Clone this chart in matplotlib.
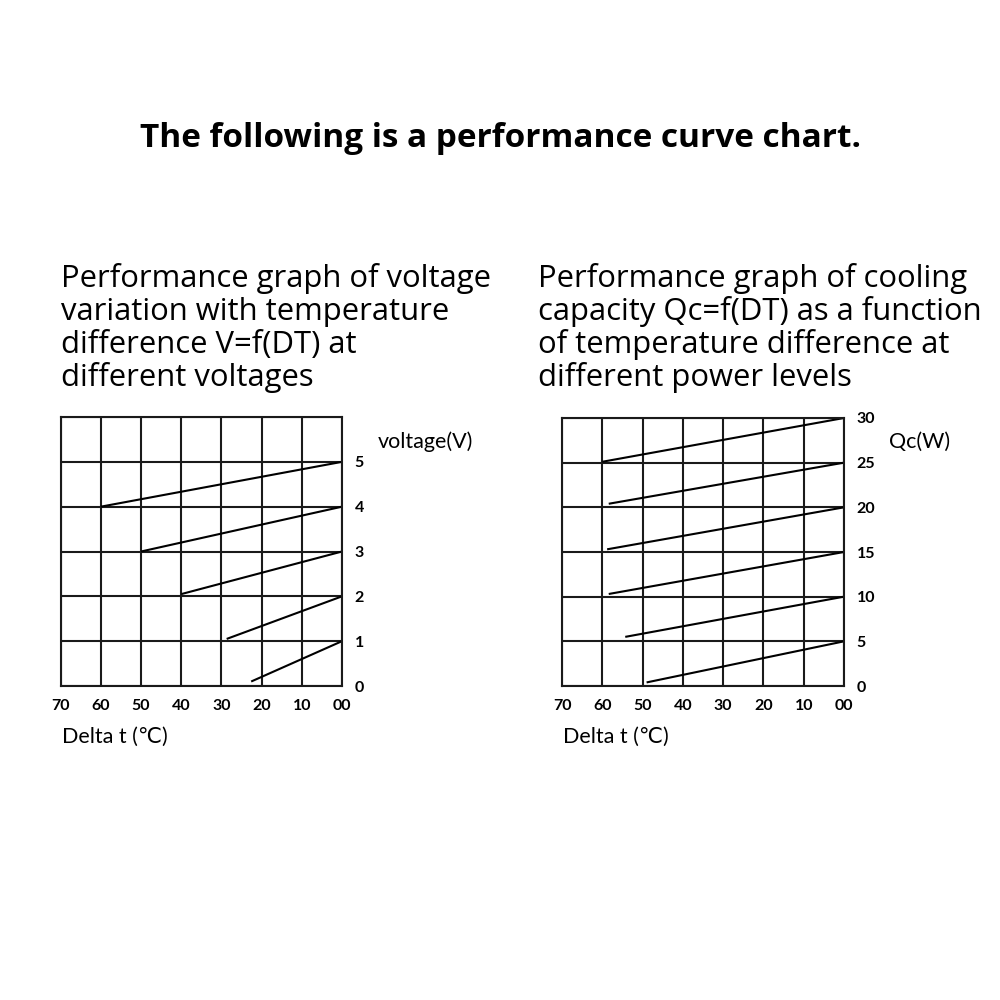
import matplotlib
matplotlib.use('Agg')
import matplotlib.pyplot as plt

# voltage chart: each line ends at DT=0 on its level
volt_levels = [1, 2, 3, 4, 5]
volt_start_dt = [22.6, 28.7, 40.0, 50.0, 60.0]
volt_start_v = [0.1, 1.05, 2.05, 3.0, 4.0]

# cooling capacity chart
qc_levels = [5, 10, 15, 20, 25, 30]
qc_start_dt = [49.0, 54.3, 58.4, 58.8, 58.4, 60.0]
qc_start_w = [0.4, 5.5, 10.3, 15.3, 20.4, 25.1]

x_ticks = [70, 60, 50, 40, 30, 20, 10, 0]
x_labels = ['70', '60', '50', '40', '30', '20', '10', '00']
volt_ticks = [0, 1, 2, 3, 4, 5, 6]
volt_labels = ['0', '1', '2', '3', '4', '5', '']
qc_ticks = [0, 5, 10, 15, 20, 25, 30]
qc_labels = ['0', '5', '10', '15', '20', '25', '30']

title = 'The following is a performance curve chart.'
left_text = ['Performance graph of voltage',
             'variation with temperature',
             'difference V=f(DT) at',
             'different voltages']
right_text = ['Performance graph of cooling',
              'capacity Qc=f(DT) as a function',
              'of temperature difference at',
              'different power levels']

plt.rcParams['font.family'] = ['Open Sans', 'DejaVu Sans']
label_font = ['Lato', 'DejaVu Sans']

fig = plt.figure(figsize=(10, 10), dpi=100)
fig.patch.set_facecolor('white')


def px(x, y):
    return x / 1000, 1 - y / 1000


fig.text(*px(501, 147), title, ha='center', va='baseline',
         fontsize=24, fontweight='bold')
for i, line in enumerate(left_text):
    fig.text(*px(61, 287 + 33 * i), line, ha='left', va='baseline', fontsize=22.3)
for i, line in enumerate(right_text):
    fig.text(*px(538, 287 + 33 * i), line, ha='left', va='baseline', fontsize=22.3)


def grid_chart(rect, yticks, ylabels, starts_dt, starts_y, levels, unit, unit_x):
    ax = fig.add_axes(rect)
    ax.set_xlim(70, 0)
    ax.set_ylim(yticks[0], yticks[-1])
    ax.set_xticks(x_ticks)
    ax.set_xticklabels(x_labels, family=label_font, fontsize=11.5, fontweight='bold')
    ax.set_yticks(yticks)
    ax.set_yticklabels(ylabels, family=label_font, fontsize=11.5, fontweight='bold')
    ax.yaxis.tick_right()
    ax.tick_params(axis='both', length=0)
    ax.tick_params(axis='x', pad=9)
    ax.tick_params(axis='y', pad=9)
    ax.grid(True, color='#1a1a1a', linewidth=1.5)
    for sp in ax.spines.values():
        sp.set_color('#1a1a1a')
        sp.set_linewidth(1.5)
    for dt, y0, lev in zip(starts_dt, starts_y, levels):
        ax.plot([dt, 0], [y0, lev], color='black', linewidth=1.5,
                solid_capstyle='butt', clip_on=False)
    fig.text(*px(unit_x, 448), unit, ha='left', va='baseline',
             family=label_font, fontsize=15.5)
    fig.text(*px(rect[0] * 1000 + 1, 743), 'Delta t (\u2103)', ha='left',
             va='baseline', family=label_font, fontsize=15.5)
    return ax


grid_chart([0.0607, 0.314, 0.2813, 0.269], volt_ticks, volt_labels,
           volt_start_dt, volt_start_v, volt_levels, 'voltage(V)', 378)
grid_chart([0.562, 0.314, 0.282, 0.268], qc_ticks, qc_labels,
           qc_start_dt, qc_start_w, qc_levels, 'Qc(W)', 889)

fig.savefig('out.png', dpi=100, facecolor='white')
